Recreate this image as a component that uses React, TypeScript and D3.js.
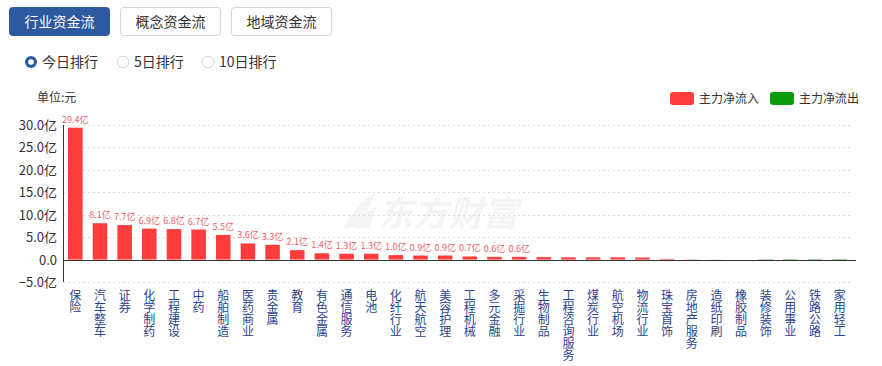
import React from 'react';
import * as d3 from 'd3';

// industries sorted by main-force net inflow (亿元)
const categories = [
  '保险', '汽车整车', '证券', '化学制药', '工程建设', '中药', '船舶制造', '医药商业',
  '贵金属', '教育', '有色金属', '通信服务', '电池', '化纤行业', '航天航空', '美容护理',
  '工程机械', '多元金融', '采掘行业', '生物制品', '工程咨询服务', '煤炭行业', '航空机场',
  '物流行业', '珠宝首饰', '房地产服务', '造纸印刷', '橡胶制品', '装修装饰', '公用事业',
  '铁路公路', '家用轻工',
];
const values = [
  29.4, 8.1, 7.7, 6.9, 6.8, 6.7, 5.5, 3.6, 3.3, 2.1, 1.4, 1.3, 1.3, 1.0, 0.9, 0.9,
  0.7, 0.6, 0.6, 0.55, 0.5, 0.5, 0.5, 0.45, 0.15, 0.05, 0.02, 0.01, -0.08, -0.25,
  -0.25, -0.25,
];
const labelCount = 19; // only the top bars carry a value label
const yTicks = [30, 25, 20, 15, 10, 5, 0, -5];
const tabs = ['行业资金流', '概念资金流', '地域资金流'];
const radios = ['今日排行', '5日排行', '10日排行'];
const legendItems = ['主力净流入', '主力净流出'];

const FONT = '"Noto Sans CJK SC", "Microsoft YaHei", sans-serif';
const RED = '#ff3d3d';
const GREEN = '#0a9b0a';

const App = () => {
  const x = d3.scaleBand<string>().domain(categories).range([63, 852]).padding(0);
  const y = d3.scaleLinear().domain([-5, 30]).range([282, 125]);
  const barW = x.bandwidth() * 0.59;
  const fmtTick = (v: number) => (v === 0 ? '0.0' : d3.format('.1f')(v) + '亿');

  const tabX = [9, 120, 231];
  const radioX = [31, 123, 208];

  return (
    <svg
      width={882}
      height={366}
      style={{ position: 'absolute', left: 0, top: 0, fontFamily: FONT }}
    >
      <rect width={882} height={366} fill="#fff" />

      {/* tabs */}
      {tabs.map((t, i) => (
        <g key={t}>
          <rect
            x={tabX[i] + 0.5}
            y={7.5}
            width={100}
            height={28}
            rx={3}
            fill={i === 0 ? '#2d5a9e' : '#fff'}
            stroke={i === 0 ? '#2d5a9e' : '#cfd4dc'}
          />
          <text
            x={tabX[i] + 50.5}
            y={26.5}
            textAnchor="middle"
            fontSize={14}
            fill={i === 0 ? '#fff' : '#333'}
          >
            {t}
          </text>
        </g>
      ))}

      {/* radios */}
      {radios.map((r, i) => (
        <g key={r}>
          {i === 0 ? (
            <>
              <circle cx={radioX[i]} cy={62} r={6} fill="#2d5a9e" />
              <circle cx={radioX[i]} cy={62} r={2.8} fill="#fff" />
            </>
          ) : (
            <circle cx={radioX[i]} cy={62} r={5.8} fill="#fff" stroke="#d0d4da" />
          )}
          <text x={radioX[i] + 11} y={67} fontSize={14} fill="#333">
            {r}
          </text>
        </g>
      ))}

      <text x={37} y={102} fontSize={12} fill="#333">
        单位:元
      </text>

      {/* legend */}
      {legendItems.map((l, i) => (
        <g key={l}>
          <rect x={670 + i * 100} y={92} width={24} height={13} rx={3} fill={i === 0 ? RED : GREEN} />
          <text x={699 + i * 100} y={103} fontSize={12} fill="#333">
            {l}
          </text>
        </g>
      ))}

      {/* watermark */}
      <g opacity={0.04} fill="#000">
        <path d="M344,228 C350,212 362,200 376,193 C369,205 365,215 362,226 Z M355,228 C361,217 368,210 378,205 C373,214 371,221 370,228 Z" />
        <text x={378} y={226} fontSize={35} fontWeight="bold" fontStyle="italic">
          东方财富
        </text>
      </g>

      {/* grid */}
      {yTicks.map((t) => (
        <g key={t}>
          {t !== 0 && (
            <line
              x1={63}
              x2={852}
              y1={Math.round(y(t)) + 0.5}
              y2={Math.round(y(t)) + 0.5}
              stroke="#dcdcdc"
              strokeDasharray="2,3"
            />
          )}
          <text x={57} y={y(t) + 5} textAnchor="end" fontSize={13} fill="#333">
            {fmtTick(t)}
          </text>
        </g>
      ))}

      {/* bars */}
      {categories.map((c, i) => {
        const v = values[i];
        const cx = (x(c) ?? 0) + x.bandwidth() / 2;
        const y0 = y(0);
        const yv = y(v);
        return (
          <g key={c}>
            <rect
              x={cx - barW / 2}
              y={Math.min(y0, yv)}
              width={barW}
              height={Math.abs(yv - y0)}
              fill={v >= 0 ? RED : GREEN}
            />
            {i < labelCount && (
              <text x={cx} y={yv - 5} textAnchor="middle" fontSize={9} fill="#e8626a">
                {d3.format('.1f')(v) + '亿'}
              </text>
            )}
          </g>
        );
      })}

      {/* axes */}
      <line x1={63.5} x2={63.5} y1={125} y2={282} stroke="#333" />
      <line x1={63} x2={856} y1={Math.round(y(0)) + 0.5} y2={Math.round(y(0)) + 0.5} stroke="#333" />

      {/* vertical category labels */}
      {categories.map((c) => {
        const cx = (x(c) ?? 0) + x.bandwidth() / 2;
        return (
          <text
            key={c}
            x={cx}
            y={289}
            fontSize={12}
            fill="#2b4490"
            style={{ writingMode: 'vertical-rl', textOrientation: 'upright' }}
          >
            {c}
          </text>
        );
      })}
    </svg>
  );
};

export default App;
